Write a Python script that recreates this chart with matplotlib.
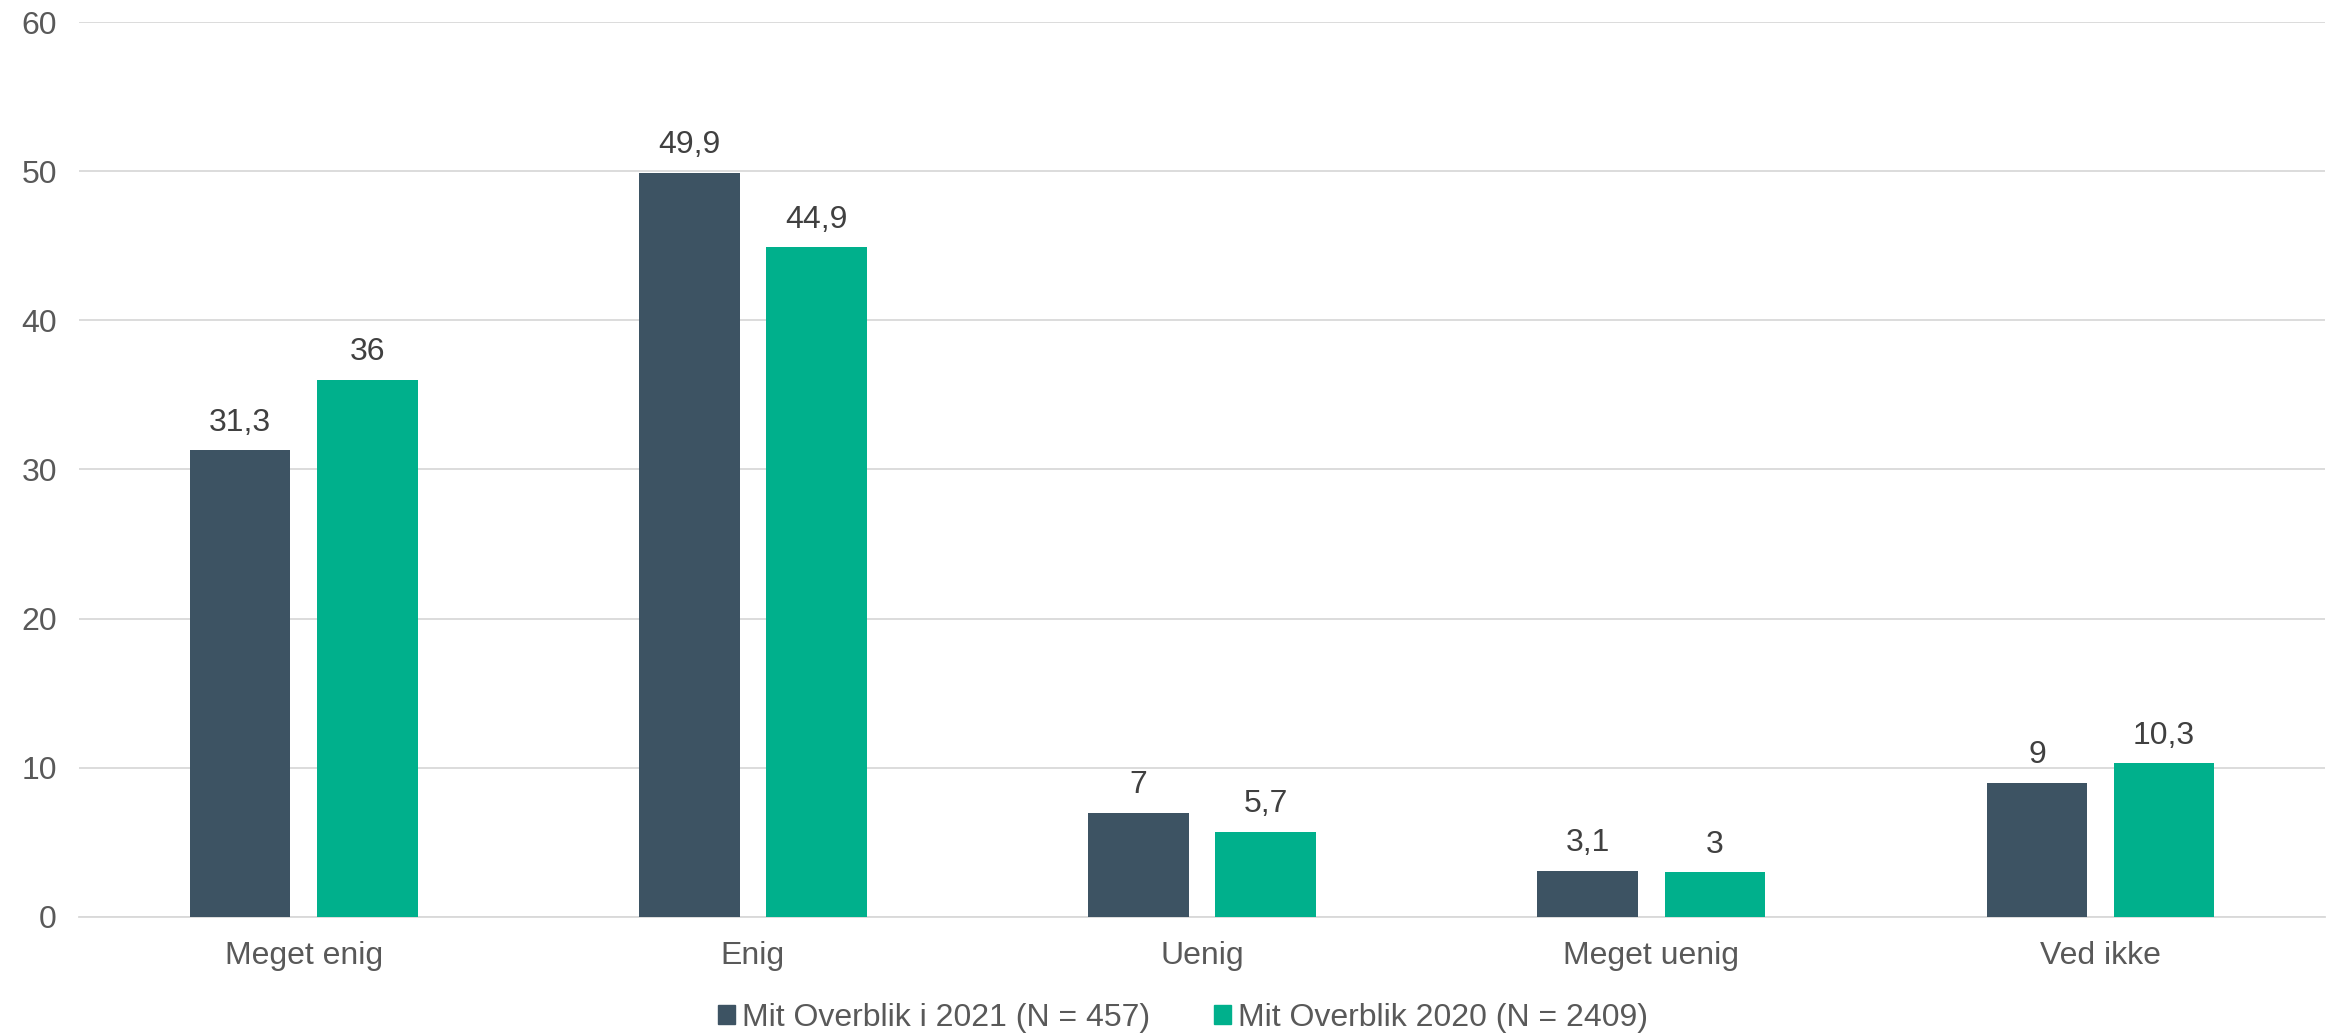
import numpy as np
import matplotlib.pyplot as plt
from matplotlib.patches import Patch

plt.rcParams['font.family'] = ['Liberation Sans', 'DejaVu Sans']

categories = ['Meget enig', 'Enig', 'Uenig', 'Meget uenig', 'Ved ikke']
values_2021 = [31.3, 49.9, 7, 3.1, 9]
values_2020 = [36, 44.9, 5.7, 3, 10.3]
labels_2021 = ['31,3', '49,9', '7', '3,1', '9']
labels_2020 = ['36', '44,9', '5,7', '3', '10,3']
series_names = ['Mit Overblik i 2021 (N = 457)', 'Mit Overblik 2020 (N = 2409)']
yticks = [0, 10, 20, 30, 40, 50, 60]

dark = '#3d5363'
green = '#00b08c'

fig = plt.figure(figsize=(23.33, 10.33), dpi=100)
ax = fig.add_axes([0.0339, 0.1123, 0.9627, 0.8664])

x = np.arange(len(categories))
w = 0.224
off = 0.1415
b1 = ax.bar(x - off, values_2021, w, color=dark, zorder=3)
b2 = ax.bar(x + off, values_2020, w, color=green, zorder=3)

for bars, labs in [(b1, labels_2021), (b2, labels_2020)]:
    for r, lab in zip(bars, labs):
        ax.annotate(lab, (r.get_x() + r.get_width() / 2, r.get_height()),
                    xytext=(0, 9), textcoords='offset points',
                    ha='center', va='bottom', fontsize=23, color='#404040')

ax.set_xlim(-0.5, len(categories) - 0.5)
ax.set_ylim(0, 60)
ax.set_yticks(yticks)
ax.set_xticks(x)
ax.set_xticklabels(categories)
ax.tick_params(axis='both', length=0, labelsize=23, labelcolor='#595959')
ax.tick_params(axis='x', pad=17)
ax.tick_params(axis='y', pad=16)
ax.grid(axis='y', color='#d9d9d9', linewidth=1.3, zorder=0)
for s in ['top', 'right', 'left']:
    ax.spines[s].set_visible(False)
ax.spines['bottom'].set_color('#d9d9d9')
ax.spines['bottom'].set_linewidth(1.3)

handles = [Patch(color=dark), Patch(color=green)]
fig.legend(handles, series_names, loc='center', bbox_to_anchor=(0.507, 0.015),
           ncol=2, frameon=False, fontsize=23, labelcolor='#595959',
           handlelength=0.55, handleheight=0.55, handletextpad=0.2, columnspacing=2.0)

fig.savefig('out.png', dpi=100)
